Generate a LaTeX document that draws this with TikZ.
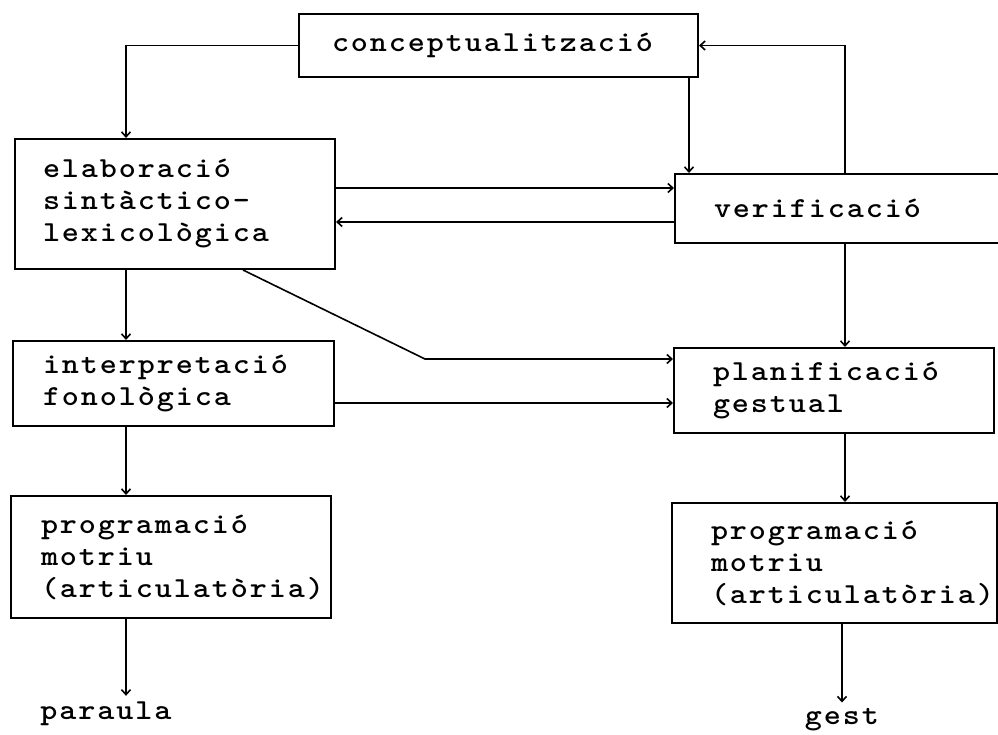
\documentclass[tikz,border=0pt]{standalone}
\usepackage{fontspec}
\newfontfamily\tw{lmmonolt10-bold.otf}[FakeStretch=1.12, LetterSpace=6.7]
\usetikzlibrary{arrows.meta,calc}

\tikzset{
  txt/.style={font=\tw\fontsize{29}{32}\selectfont},
  stage/.style={draw, line width=2pt, anchor=north west, align=left,
    inner ysep=0pt, txt},
  lbl/.style={inner sep=6pt, txt},
  arr/.style={line width=1.6pt, -{Straight Barb[length=5pt,width=9pt,line width=1.6pt]}},
}

\begin{document}
\begin{tikzpicture}[x=1pt, y=-1pt]
\useasboundingbox (0,0) rectangle (998,735);

% stages (x, y of top-left corner; width, height, left padding)
\node[stage, minimum height=63pt, inner xsep=33pt, text width=333pt] (conc) at (298,13) {conceptualització};
\node[stage, minimum height=130pt, inner xsep=28pt, text width=264pt] (elab) at (14,138) {elaboració\\sintàctico-\\lexicològica};
\node[stage, minimum height=69pt, inner xsep=39pt, text width=262pt] (verif) at (674,173) {verificació};
\node[stage, minimum height=85pt, inner xsep=30pt, text width=261pt] (interp) at (12,340) {interpretació\\fonològica};
\node[stage, minimum height=85pt, inner xsep=39pt, text width=242pt] (plan) at (673,347) {planificació\\gestual};
\node[stage, minimum height=122pt, inner xsep=30pt, text width=260pt] (progL) at (10,495) {programació\\motriu\\(articulatòria)};
\node[stage, minimum height=120pt, inner xsep=39pt, text width=247pt] (progR) at (671,502) {programació\\motriu\\(articulatòria)};

% outputs
\node[lbl] (paraula) at (106,714) {paraula};
\node[lbl] (gest) at (842,720) {gest};

% columns and rows of the connectors
\coordinate (cL) at (126,0);
\coordinate (cM) at (689,0);
\coordinate (cR) at (845,0);
\coordinate (dS) at (243,0);
\coordinate (rA) at (0,188);
\coordinate (rB) at (0,222);
\coordinate (rD) at (0,403);
\coordinate (bend) at (425,359);

% connectors
\draw[arr] (conc.west) -| (cL |- elab.north);
\draw[arr] (cM |- conc.south) -- (cM |- verif.north);
\draw[arr] (cR |- verif.north) |- (conc.east);
\draw[arr] (elab.east |- rA) -- (verif.west |- rA);
\draw[arr] (verif.west |- rB) -- (elab.east |- rB);
\draw[arr] (dS |- elab.south) -- (bend) -- (plan.west |- bend);
\draw[arr] (interp.east |- rD) -- (plan.west |- rD);
\draw[arr] (cL |- elab.south) -- (cL |- interp.north);
\draw[arr] (cL |- interp.south) -- (cL |- progL.north);
\draw[arr] (cL |- progL.south) -- (cL |- paraula.north);
\draw[arr] (cR |- verif.south) -- (cR |- plan.north);
\draw[arr] (cR |- plan.south) -- (cR |- progR.north);
\draw[arr] (progR.south -| gest) -- (gest.north);
\end{tikzpicture}
\end{document}
